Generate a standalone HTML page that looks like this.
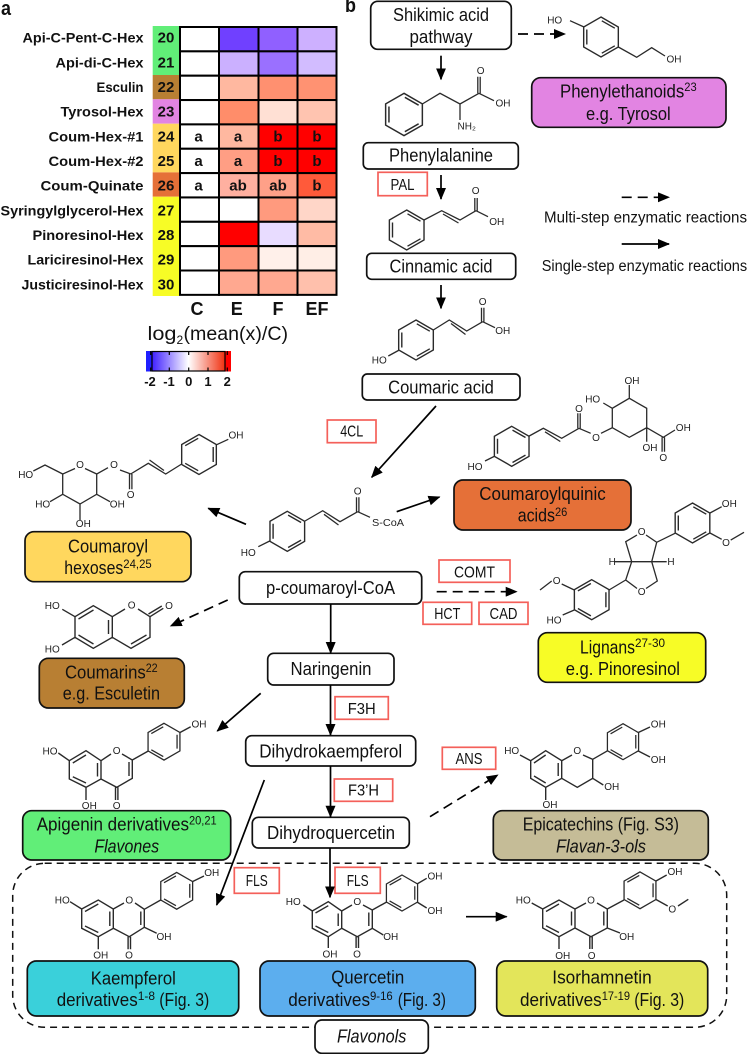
<!DOCTYPE html>
<html lang="en"><head><meta charset="utf-8"><title>Phenylpropanoid pathway</title>
<style>
html,body{margin:0;padding:0;background:#fff}
svg{display:block}
text{font-family:"Liberation Sans",sans-serif;fill:#111}
.t{font-size:18px;text-anchor:middle}
.l{font-size:18px}
.s{font-size:12px}
.e{font-size:15.5px;text-anchor:middle}
.m{font-size:10px;text-anchor:middle;fill:#222}
.h{font-size:14px;font-weight:bold;text-anchor:end}
.n{font-size:15px;font-weight:bold;text-anchor:middle}
.c{font-size:15px;font-weight:bold;text-anchor:middle}
.box{stroke:#111;stroke-width:1.7}
.ez{fill:#fff;stroke:#f4605a;stroke-width:1.7}
.b{fill:none;stroke:#2a2a2a;stroke-width:1.3}
.a{stroke:#000;stroke-width:1.7;fill:none;marker-end:url(#ah)}
.ad{stroke:#000;stroke-width:1.7;fill:none;stroke-dasharray:10 6;marker-end:url(#ah)}
.cell{stroke:#000;stroke-width:2}
</style></head><body>
<svg xmlns="http://www.w3.org/2000/svg" width="749" height="1054" viewBox="0 0 749 1054">
<defs>
<marker id="ah" markerUnits="userSpaceOnUse" markerWidth="12" markerHeight="10" refX="11" refY="5" orient="auto"><path d="M0 0L12 5L0 10z" fill="#000"/></marker>
<g id="ra"><path class="b" d="M0-20L17.32-10V10L0 20L-17.32 10V-10Z M-14.2-7.5V7.5 M.8-16.2L13.8-8.8 M.8 16.2L13.8 8.8" style="stroke-width:1.4"/></g>
<g id="rb"><path class="b" d="M0-20L17.32-10V10L0 20L-17.32 10V-10Z M14.2-7.5V7.5 M-.8-16.2L-13.8-8.8 M-.8 16.2L-13.8 8.8" style="stroke-width:1.4"/></g>
</defs>

<!-- Panel a -->
<text x="1" y="15" style="font-size:20px;font-weight:bold" textLength="10" lengthAdjust="spacingAndGlyphs">a</text>
<text x="345" y="12" style="font-size:20px;font-weight:bold" textLength="11" lengthAdjust="spacingAndGlyphs">b</text>

<rect x="152.7" y="26" width="27" height="49" fill="#61EE78"/>
<rect x="152.7" y="75" width="27" height="24.3" fill="#B87F33"/>
<rect x="152.7" y="99.3" width="27" height="24.4" fill="#E284E2"/>
<rect x="152.7" y="123.7" width="27" height="48.7" fill="#FFD75E"/>
<rect x="152.7" y="172.4" width="27" height="24.3" fill="#E57038"/>
<rect x="152.7" y="196.7" width="27" height="99.3" fill="#F7FC26"/>

<g class="cell">
<rect x="180" y="27" width="39" height="24.35" fill="#fff"/><rect x="219" y="27" width="39.5" height="24.35" fill="#7040FF"/><rect x="258.5" y="27" width="39" height="24.35" fill="#9060FF"/><rect x="297.5" y="27" width="39" height="24.35" fill="#CDB0FF"/>
<rect x="180" y="51.35" width="39" height="24.35" fill="#fff"/><rect x="219" y="51.35" width="39.5" height="24.35" fill="#CBB0FF"/><rect x="258.5" y="51.35" width="39" height="24.35" fill="#9A70FF"/><rect x="297.5" y="51.35" width="39" height="24.35" fill="#D2BCFF"/>
<rect x="180" y="75.7" width="39" height="24.35" fill="#fff"/><rect x="219" y="75.7" width="39.5" height="24.35" fill="#FFB8A0"/><rect x="258.5" y="75.7" width="39" height="24.35" fill="#FF9070"/><rect x="297.5" y="75.7" width="39" height="24.35" fill="#FF9272"/>
<rect x="180" y="100.05" width="39" height="24.35" fill="#fff"/><rect x="219" y="100.05" width="39.5" height="24.35" fill="#FF8D6A"/><rect x="258.5" y="100.05" width="39" height="24.35" fill="#FFE0D4"/><rect x="297.5" y="100.05" width="39" height="24.35" fill="#FFC4B0"/>
<rect x="180" y="124.4" width="39" height="24.35" fill="#fff"/><rect x="219" y="124.4" width="39.5" height="24.35" fill="#FFB8A0"/><rect x="258.5" y="124.4" width="39" height="24.35" fill="#FF0000"/><rect x="297.5" y="124.4" width="39" height="24.35" fill="#FF0000"/>
<rect x="180" y="148.75" width="39" height="24.35" fill="#fff"/><rect x="219" y="148.75" width="39.5" height="24.35" fill="#FF9E84"/><rect x="258.5" y="148.75" width="39" height="24.35" fill="#FF0000"/><rect x="297.5" y="148.75" width="39" height="24.35" fill="#FF0000"/>
<rect x="180" y="173.1" width="39" height="24.35" fill="#fff"/><rect x="219" y="173.1" width="39.5" height="24.35" fill="#FFB0A0"/><rect x="258.5" y="173.1" width="39" height="24.35" fill="#FFA088"/><rect x="297.5" y="173.1" width="39" height="24.35" fill="#FF5A3A"/>
<rect x="180" y="197.45" width="39" height="24.35" fill="#fff"/><rect x="219" y="197.45" width="39.5" height="24.35" fill="#fff"/><rect x="258.5" y="197.45" width="39" height="24.35" fill="#FF9A7E"/><rect x="297.5" y="197.45" width="39" height="24.35" fill="#FFD6C8"/>
<rect x="180" y="221.8" width="39" height="24.35" fill="#fff"/><rect x="219" y="221.8" width="39.5" height="24.35" fill="#FF0000"/><rect x="258.5" y="221.8" width="39" height="24.35" fill="#E8DCFF"/><rect x="297.5" y="221.8" width="39" height="24.35" fill="#FFBBA5"/>
<rect x="180" y="246.15" width="39" height="24.35" fill="#fff"/><rect x="219" y="246.15" width="39.5" height="24.35" fill="#FF9A7E"/><rect x="258.5" y="246.15" width="39" height="24.35" fill="#FFF0EA"/><rect x="297.5" y="246.15" width="39" height="24.35" fill="#FFEEE6"/>
<rect x="180" y="270.5" width="39" height="24.35" fill="#fff"/><rect x="219" y="270.5" width="39.5" height="24.35" fill="#FFA890"/><rect x="258.5" y="270.5" width="39" height="24.35" fill="#FFA890"/><rect x="297.5" y="270.5" width="39" height="24.35" fill="#FFC0AC"/>
</g>

<text class="h" x="143.5" y="42.7" textLength="121" lengthAdjust="spacingAndGlyphs">Api-C-Pent-C-Hex</text>
<text class="h" x="143.5" y="67.4" textLength="88" lengthAdjust="spacingAndGlyphs">Api-di-C-Hex</text>
<text class="h" x="143.5" y="92" textLength="47" lengthAdjust="spacingAndGlyphs">Esculin</text>
<text class="h" x="143.5" y="116.7" textLength="83" lengthAdjust="spacingAndGlyphs">Tyrosol-Hex</text>
<text class="h" x="143.5" y="141.3" textLength="95" lengthAdjust="spacingAndGlyphs">Coum-Hex-#1</text>
<text class="h" x="143.5" y="166" textLength="95" lengthAdjust="spacingAndGlyphs">Coum-Hex-#2</text>
<text class="h" x="143.5" y="190.7" textLength="103" lengthAdjust="spacingAndGlyphs">Coum-Quinate</text>
<text class="h" x="143.5" y="215.3" textLength="143" lengthAdjust="spacingAndGlyphs">Syringylglycerol-Hex</text>
<text class="h" x="143.5" y="240" textLength="111" lengthAdjust="spacingAndGlyphs">Pinoresinol-Hex</text>
<text class="h" x="143.5" y="264.6" textLength="116" lengthAdjust="spacingAndGlyphs">Lariciresinol-Hex</text>
<text class="h" x="143.5" y="289.3" textLength="122" lengthAdjust="spacingAndGlyphs">Justiciresinol-Hex</text>

<text class="n" x="166" y="42.7">20</text><text class="n" x="166" y="67.4">21</text><text class="n" x="166" y="92">22</text><text class="n" x="166" y="116.7">23</text><text class="n" x="166" y="141.3">24</text><text class="n" x="166" y="166">25</text><text class="n" x="166" y="190.7">26</text><text class="n" x="166" y="215.3">27</text><text class="n" x="166" y="240">28</text><text class="n" x="166" y="264.6">29</text><text class="n" x="166" y="289.3">30</text>

<text class="c" x="198.5" y="141.3">a</text><text class="c" x="238" y="141.3">a</text><text class="c" x="278" y="141.3">b</text><text class="c" x="317" y="141.3">b</text>
<text class="c" x="198.5" y="166">a</text><text class="c" x="238" y="166">a</text><text class="c" x="278" y="166">b</text><text class="c" x="317" y="166">b</text>
<text class="c" x="198.5" y="190.7">a</text><text class="c" x="238" y="190.7">ab</text><text class="c" x="278" y="190.7">ab</text><text class="c" x="317" y="190.7">b</text>

<text x="197" y="315" style="font-size:18px;font-weight:bold;text-anchor:middle">C</text>
<text x="236.7" y="315" style="font-size:18px;font-weight:bold;text-anchor:middle">E</text>
<text x="278" y="315" style="font-size:18px;font-weight:bold;text-anchor:middle">F</text>
<text x="317" y="315" style="font-size:18px;font-weight:bold;text-anchor:middle">EF</text>
<text x="147.5" y="340" style="font-size:19px" textLength="29" lengthAdjust="spacingAndGlyphs">log</text>
<text x="176.5" y="344" style="font-size:12px">2</text>
<text x="183.5" y="340" style="font-size:19px" textLength="104.5" lengthAdjust="spacingAndGlyphs">(mean(x)/C)</text>

<linearGradient id="g" x1="0" x2="1" y1="0" y2="0"><stop offset="0" stop-color="#4020ff"/><stop offset=".5" stop-color="#fff"/><stop offset="1" stop-color="#f03010"/></linearGradient>
<rect x="146" y="351" width="6" height="20.5" fill="#2020ff"/>
<rect x="225" y="351" width="6" height="20.5" fill="#ff0000"/>
<rect x="152" y="351.5" width="73" height="19.5" fill="url(#g)" stroke="#000" stroke-width="1.2"/>
<path d="M150.7 351v4M169.3 351v4M188.7 351v4M208 351v4M227.3 351v4M150.7 371.5v-4M169.3 371.5v-4M188.7 371.5v-4M208 371.5v-4M227.3 371.5v-4" stroke="#000" stroke-width="1.2"/>
<g style="font-size:13px;font-weight:bold;text-anchor:middle">
<text x="150" y="386">-2</text><text x="169" y="386">-1</text><text x="188.7" y="386">0</text><text x="208" y="386">1</text><text x="227.3" y="386">2</text>
</g>

<!-- Panel b main boxes -->
<g class="box" fill="#fff">
<rect x="370.7" y="1.3" width="140.6" height="48" rx="7"/>
<rect x="363.3" y="142.7" width="155" height="26.3" rx="5"/>
<rect x="366.7" y="253.3" width="149" height="26" rx="5"/>
<rect x="362.3" y="374" width="157.7" height="26" rx="5"/>
<rect x="239.3" y="571.7" width="182.4" height="32.3" rx="6"/>
<rect x="267.7" y="653.3" width="126.3" height="31.7" rx="6"/>
<rect x="245.7" y="735.7" width="170" height="30.3" rx="6"/>
<rect x="252.3" y="817.3" width="157" height="30.7" rx="6"/>
</g>
<rect x="12.7" y="863.3" width="714" height="164" rx="32" fill="none" stroke="#111" stroke-width="1.5" stroke-dasharray="7 5"/>
<g class="box">
<rect x="531.7" y="77.7" width="194.3" height="49.6" rx="9" fill="#E284E2"/>
<rect x="25" y="531.7" width="166" height="50" rx="9" fill="#FFD75E"/>
<rect x="39.3" y="658.3" width="145" height="49.7" rx="9" fill="#B87F33"/>
<rect x="454" y="480" width="177" height="50" rx="9" fill="#E57038"/>
<rect x="538.3" y="632.7" width="167.4" height="49.6" rx="9" fill="#F7FC26"/>
<rect x="22.7" y="810.7" width="208" height="49.3" rx="9" fill="#61EE78"/>
<rect x="493.3" y="810.7" width="215" height="49.3" rx="9" fill="#C5BC97"/>
<rect x="27.3" y="961" width="211.4" height="55" rx="9" fill="#3AD0DA"/>
<rect x="260" y="961" width="215.3" height="55" rx="9" fill="#5CAEEE"/>
<rect x="496.7" y="961" width="211" height="55" rx="9" fill="#E3E55A"/>
<rect x="315" y="1020" width="113.3" height="33.3" rx="7" fill="#fff"/>
</g>

<!-- Enzymes -->
<rect class="ez" x="378" y="172.3" width="49.3" height="23.4"/><text class="e" x="402.5" y="190" textLength="24" lengthAdjust="spacingAndGlyphs">PAL</text>
<rect class="ez" x="327.3" y="420" width="48.7" height="22.7"/><text class="e" x="351.7" y="436.7" textLength="23" lengthAdjust="spacingAndGlyphs">4CL</text>
<rect class="ez" x="439" y="560" width="71" height="22.3"/><text class="e" x="474.5" y="577.3" textLength="41" lengthAdjust="spacingAndGlyphs">COMT</text>
<rect class="ez" x="423" y="602.3" width="48.7" height="22"/><text class="e" x="447.3" y="619" textLength="26" lengthAdjust="spacingAndGlyphs">HCT</text>
<rect class="ez" x="479" y="602.3" width="49" height="22"/><text class="e" x="503.5" y="619" textLength="28" lengthAdjust="spacingAndGlyphs">CAD</text>
<rect class="ez" x="335" y="696.7" width="53.3" height="22.6"/><text class="e" x="361.7" y="714" textLength="28" lengthAdjust="spacingAndGlyphs">F3H</text>
<rect class="ez" x="334.3" y="779" width="58.4" height="22.3"/><text class="e" x="363.5" y="795.7" textLength="31" lengthAdjust="spacingAndGlyphs">F3’H</text>
<rect class="ez" x="442.3" y="747.3" width="53.4" height="22"/><text class="e" x="469" y="764" textLength="27" lengthAdjust="spacingAndGlyphs">ANS</text>
<rect class="ez" x="234.3" y="867.7" width="45" height="25.6"/><text class="e" x="256.8" y="886" textLength="22" lengthAdjust="spacingAndGlyphs">FLS</text>
<rect class="ez" x="335" y="867.3" width="45.3" height="26"/><text class="e" x="357.7" y="886" textLength="22" lengthAdjust="spacingAndGlyphs">FLS</text>

<!-- Arrows -->
<path class="ad" d="M518 34H565"/>
<path class="a" d="M441 55.7V79.3"/>
<path class="a" d="M441 175V199"/>
<path class="a" d="M441 285V308.3"/>
<path class="a" d="M436 406L371.7 477.3"/>
<path class="a" d="M396.7 511.7L439.5 497"/>
<path class="a" d="M246 524.3L208.3 508.3"/>
<path class="ad" d="M227.7 600L170.7 626"/>
<path class="ad" d="M436.7 591.7H516.7"/>
<path class="a" d="M330.7 604V653"/>
<path class="a" d="M330.5 685V735"/>
<path class="a" d="M330.5 766V816.7"/>
<path class="a" d="M330 848V897.3"/>
<path class="a" d="M260.7 693.3L217.3 731"/>
<path class="a" d="M264.3 780L216.7 905"/>
<path class="ad" d="M430 816.7L497.7 775"/>
<path class="a" d="M466 916.7H506.7"/>
<path class="ad" d="M621.7 197.3H669"/>
<path class="a" d="M621.7 244H669"/>

<!-- Legend -->
<text class="l" x="544" y="222.7" style="font-size:15.5px" textLength="203" lengthAdjust="spacingAndGlyphs">Multi-step enzymatic reactions</text>
<text class="l" x="541.7" y="271" style="font-size:15.5px" textLength="205.5" lengthAdjust="spacingAndGlyphs">Single-step enzymatic reactions</text>

<!-- Box labels -->
<text class="t" x="441" y="21" textLength="96" lengthAdjust="spacingAndGlyphs">Shikimic acid</text>
<text class="t" x="441" y="43" textLength="63" lengthAdjust="spacingAndGlyphs">pathway</text>
<text class="t" x="441" y="161.7" textLength="104" lengthAdjust="spacingAndGlyphs">Phenylalanine</text>
<text class="t" x="441" y="272.7" textLength="103" lengthAdjust="spacingAndGlyphs">Cinnamic acid</text>
<text class="t" x="441" y="393.3" textLength="105.7" lengthAdjust="spacingAndGlyphs">Coumaric acid</text>
<text class="t" x="330.5" y="594" textLength="129" lengthAdjust="spacingAndGlyphs">p-coumaroyl-CoA</text>
<text class="t" x="331" y="675" textLength="81" lengthAdjust="spacingAndGlyphs">Naringenin</text>
<text class="t" x="330.7" y="757.3" textLength="143" lengthAdjust="spacingAndGlyphs">Dihydrokaempferol</text>
<text class="t" x="331" y="839" textLength="128" lengthAdjust="spacingAndGlyphs">Dihydroquercetin</text>

<text class="l" x="560" y="97.7" textLength="124.3" lengthAdjust="spacingAndGlyphs">Phenylethanoids</text><text class="s" x="684.3" y="91" textLength="12.4" lengthAdjust="spacingAndGlyphs">23</text>
<text class="t" x="628.3" y="120" textLength="84.7" lengthAdjust="spacingAndGlyphs">e.g. Tyrosol</text>
<text class="t" x="108" y="552.3" textLength="80" lengthAdjust="spacingAndGlyphs">Coumaroyl</text>
<text class="l" x="64.3" y="574" textLength="59" lengthAdjust="spacingAndGlyphs">hexoses</text><text class="s" x="123.3" y="568" textLength="28.4" lengthAdjust="spacingAndGlyphs">24,25</text>
<text class="l" x="65" y="678.3" textLength="80.7" lengthAdjust="spacingAndGlyphs">Coumarins</text><text class="s" x="145.7" y="672" textLength="12" lengthAdjust="spacingAndGlyphs">22</text>
<text class="l" x="62.7" y="699.3" textLength="97.3" lengthAdjust="spacingAndGlyphs">e.g. Esculetin</text>
<text class="t" x="542.5" y="500" textLength="126.4" lengthAdjust="spacingAndGlyphs">Coumaroylquinic</text>
<text class="l" x="517.7" y="521.7" textLength="37.3" lengthAdjust="spacingAndGlyphs">acids</text><text class="s" x="555" y="516" textLength="12.3" lengthAdjust="spacingAndGlyphs">26</text>
<text class="l" x="580" y="653.3" textLength="55" lengthAdjust="spacingAndGlyphs">Lignans</text><text class="s" x="635" y="647" textLength="30" lengthAdjust="spacingAndGlyphs">27-30</text>
<text class="l" x="565.7" y="675" textLength="114.3" lengthAdjust="spacingAndGlyphs">e.g. Pinoresinol</text>
<text class="l" x="36.7" y="830.7" textLength="152.3" lengthAdjust="spacingAndGlyphs">Apigenin derivatives</text><text class="s" x="189" y="824.5" textLength="27.7" lengthAdjust="spacingAndGlyphs">20,21</text>
<text class="t" x="126.7" y="852.7" style="font-style:italic" textLength="64.7" lengthAdjust="spacingAndGlyphs">Flavones</text>
<text class="l" x="522.7" y="830.7" textLength="156.3" lengthAdjust="spacingAndGlyphs">Epicatechins (Fig. S3)</text>
<text class="t" x="601" y="852.7" style="font-style:italic" textLength="90" lengthAdjust="spacingAndGlyphs">Flavan-3-ols</text>
<text class="t" x="133.3" y="984.3" textLength="85" lengthAdjust="spacingAndGlyphs">Kaempferol</text>
<text class="l" x="56.7" y="1006" textLength="81" lengthAdjust="spacingAndGlyphs">derivatives</text><text class="s" x="137.7" y="1000" textLength="17.3" lengthAdjust="spacingAndGlyphs">1-8</text><text class="l" x="159.3" y="1006" textLength="50" lengthAdjust="spacingAndGlyphs">(Fig. 3)</text>
<text class="t" x="367.7" y="983.7" textLength="73" lengthAdjust="spacingAndGlyphs">Quercetin</text>
<text class="l" x="288.3" y="1006" textLength="81.7" lengthAdjust="spacingAndGlyphs">derivatives</text><text class="s" x="370" y="1000" textLength="22.7" lengthAdjust="spacingAndGlyphs">9-16</text><text class="l" x="397.7" y="1006" textLength="48.3" lengthAdjust="spacingAndGlyphs">(Fig. 3)</text>
<text class="t" x="602" y="983.7" textLength="99.4" lengthAdjust="spacingAndGlyphs">Isorhamnetin</text>
<text class="l" x="520" y="1006" textLength="81.7" lengthAdjust="spacingAndGlyphs">derivatives</text><text class="s" x="601.7" y="1000" textLength="28.3" lengthAdjust="spacingAndGlyphs">17-19</text><text class="l" x="634.3" y="1006" textLength="50" lengthAdjust="spacingAndGlyphs">(Fig. 3)</text>
<text class="t" x="371.7" y="1042.7" style="font-style:italic" textLength="69.3" lengthAdjust="spacingAndGlyphs">Flavonols</text>

<!-- Tyrosol -->
<use href="#ra" transform="translate(601,37)"/>
<path class="b" d="M618.3 47L636.7 57.3L651.7 47.7L665 56M570 20.7L584 27"/>
<text class="m" x="554.7" y="23.5">HO</text><text class="m" x="674" y="62.5">OH</text>

<!-- Phenylalanine -->
<use href="#ra" transform="translate(404,114.5) scale(1.06)"/>
<path class="b" d="M422.3 104L440 93.3L460 104L479 93.3M477.8 93.3V76.7M480.2 93.3V76.7M479 93.3L494 100.7M460 104V120"/>
<text class="m" x="480.7" y="74">O</text><text class="m" x="503" y="106.5">OH</text><text class="m" x="466.7" y="129.5">NH₂</text>

<!-- Cinnamic acid -->
<use href="#ra" transform="translate(406.7,230)"/>
<path class="b" d="M424 220L441.7 210.7L460 220L476 210.7M443 214L458.5 223M474.8 210.7V198M477.2 210.7V198M476 210.7L488 216.7"/>
<text class="m" x="475.7" y="194">O</text><text class="m" x="496.7" y="225">OH</text>

<!-- Coumaric acid -->
<use href="#ra" transform="translate(416,340)"/>
<path class="b" d="M433.3 330L449.3 320L466.7 331L482.7 321.7M451 323.5L465.5 334.5M481.5 321.7V307.7M483.9 321.7V307.7M482.7 321.7L495 327.7M399.3 350L388.3 356"/>
<text class="m" x="379.3" y="363.5">HO</text><text class="m" x="482.7" y="305">O</text><text class="m" x="502.7" y="334">OH</text>

<!-- p-Coumaroyl-CoA -->
<use href="#ra" transform="translate(287.3,531.3)"/>
<path class="b" d="M305 521L322.7 510.7L340 521.7L357.7 511.7M324 514.3L338.5 525M356.5 511.7V497.3M358.9 511.7V497.3M357.7 511.7L370 517.3M269.7 541L258.3 546.7"/>
<text class="m" x="248.3" y="555.8">HO</text><text class="m" x="357.7" y="494.5">O</text><text class="m" x="388" y="525.8" textLength="32" lengthAdjust="spacingAndGlyphs">S-CoA</text>

<!-- Coumaroyl hexose -->
<use href="#rb" transform="translate(199,454.5)"/>
<path class="b" d="M216.7 444.7L228.3 439.3M181.7 464L165.7 474L148.3 463.3L130.7 474M164 470.5L149.5 460M129.5 474V489.3M131.9 474V489.3M130.7 474L120 470M108 467.7L96.7 474V494.3L80 504L62.7 494.3V474L75 468.5M85 468.5L96.7 474M62.7 474L45 465L33.3 471M62.7 494.3L50 501.7M80 504V520M96.7 494.3L110 501.7"/>
<text class="m" x="236" y="438.5">OH</text><text class="m" x="130.7" y="497.8">O</text><text class="m" x="114" y="467.8">O</text><text class="m" x="80" y="468">O</text><text class="m" x="25.7" y="477.8">HO</text><text class="m" x="42.7" y="507.5">HO</text><text class="m" x="83.3" y="526.8">OH</text><text class="m" x="117.3" y="507.5">OH</text>

<!-- Esculetin -->
<path class="b" style="stroke-width:1.4" d="M75 616.7L93.3 605.7L112.3 616.7V637.3L93.3 648.3L75 637.3ZM78.5 619L93.5 610M78.5 635L93.5 644M108.5 620V634M112.3 616.7L125 609M138 609L150 616.7V637.3L131 648.3L112.3 637.3M146.5 635L131 644M150 616.7L163.3 608.3M148.5 614L161.8 606M62.3 609.3L75 616.7M62 645L75 637.3"/>
<text class="m" x="131.7" y="608.5">O</text><text class="m" x="169" y="609.2">O</text><text class="m" x="52.3" y="609.2">HO</text><text class="m" x="52.3" y="652.5">HO</text>

<!-- Coumaroylquinic -->
<use href="#ra" transform="translate(511.7,446.3)"/>
<path class="b" d="M528.3 436.5L543.3 428.3L561.7 438.3L579 428.3M545 431.8L560.3 441.5M577.8 428.3V413.3M580.2 428.3V413.3M579 428.3L590.7 433.3M601 433.3L612.3 427.7V408.3L629.3 398.3L646.7 408.3V427.7L629.3 437.3L612.3 427.7M629.3 398.3V385M612.3 408.3L603.3 403M646.7 427.7V441.7M646.7 427.7L663.3 437.3L675 430M662.1 437.3V451.7M664.5 437.3V451.7M495 456L485 461"/>
<text class="m" x="579" y="411.8">O</text><text class="m" x="596" y="440.8">O</text><text class="m" x="632" y="384">OH</text><text class="m" x="592.7" y="402.5">HO</text><text class="m" x="650" y="450.8">OH</text><text class="m" x="683.3" y="431.2">OH</text><text class="m" x="663.3" y="460.8">O</text><text class="m" x="475" y="470.2">HO</text>

<!-- Pinoresinol -->
<use href="#ra" transform="translate(692.5,523)"/>
<use href="#rb" transform="translate(591.7,599.7)"/>
<path class="b" d="M710 513L721.7 506.7M710 533L721.7 539.3M730.7 540L744 532.3M675 533.3L656.7 542.3L646 535M637 535L625.7 541.7L631.7 561.7H651.7L656.7 542.3M651.7 561.7L657.3 581L646 588.5M637 588.5L625.7 580L631.7 561.7M615 561.7H631.7M651.7 561.7H666.7M625.7 580L609 590M574.3 590L561.7 584M551.7 581L540 590M574.3 610L562.7 615"/>
<text class="m" x="729.3" y="506.8">OH</text><text class="m" x="726" y="546.2">O</text><text class="m" x="641.7" y="535.2">O</text><text class="m" x="641.7" y="595.2">O</text><text class="m" x="612.3" y="565.2">H</text><text class="m" x="671" y="565.2">H</text><text class="m" x="556.7" y="584.2">O</text><text class="m" x="554" y="623.5">HO</text>

<!-- Apigenin -->
<use href="#rb" transform="translate(164,741.7) scale(.92)"/>
<path class="b" style="stroke-width:1.4" d="M69.3 760.7L86 750.7L101 760.7V779L86 787.3L69.3 779ZM72.8 763L86 755M72.8 776.7L86 783M97.5 763V776.5M101 760.7L111 754M122 754L132.3 760V778.3L116.7 787.3L101 779M129 762V776M115.5 787.3V800M117.9 787.3V800M86 787.3V800M58.3 753L69.3 760.7M132.3 760L148.3 751M180 732.5L190.7 726.7"/>
<text class="m" x="116.7" y="754.2">O</text><text class="m" x="116.7" y="808.8">O</text><text class="m" x="89.3" y="808.8">OH</text><text class="m" x="50" y="754.5">HO</text><text class="m" x="199" y="727.5">OH</text>

<!-- Kaempferol -->
<use href="#rb" transform="translate(176.7,890.8) scale(.92)"/>
<path class="b" style="stroke-width:1.4" d="M81.7 909L98.3 900L113.3 909V928.3L98.3 936.7L81.7 928.3ZM85 911.5L98.3 904M85 926L98.3 932.5M109.8 911.5V926M113.3 909L124 903M135 903L144.3 909.3V927.3L129.3 936.7L113.3 928.3M140.8 911.5V925M128.1 936.7V949.3M130.5 936.7V949.3M98.3 936.7V949.3M70 901.7L81.7 909M144.3 927.3L156.7 933.3M144.3 909.3L160.7 900M192.7 881.5L204 876"/>
<text class="m" x="129.3" y="903.5">O</text><text class="m" x="129" y="958.5">O</text><text class="m" x="100.7" y="958.5">OH</text><text class="m" x="62.3" y="903.5">HO</text><text class="m" x="164" y="940.2">OH</text><text class="m" x="211.7" y="876.2">OH</text>

<!-- Quercetin -->
<use href="#rb" transform="translate(402,893) scale(.9)"/>
<path class="b" style="stroke-width:1.4" d="M312.3 911L328.3 901.7L341.7 911V928.3L328.3 936.7L312.3 928.3ZM315.5 913L328.3 905.7M315.5 926L328.3 932.5M338.2 913.5V926M341.7 911L352 905M363 905L372.3 910V928.3L357.3 936.7L341.7 928.3M368.8 912.5V926M356.1 936.7V948M358.5 936.7V948M328.3 936.7V948M303.3 905L312.3 911M372.3 928.3L383.3 935M372.3 910L386.7 902M417 884L426.7 878.3M417 902L426.7 908"/>
<text class="m" x="357.3" y="905.2">O</text><text class="m" x="357" y="957.5">O</text><text class="m" x="330" y="957.5">OH</text><text class="m" x="293.3" y="905.2">HO</text><text class="m" x="390.7" y="940.2">OH</text><text class="m" x="435" y="879.5">OH</text><text class="m" x="435" y="914.2">OH</text>

<!-- Isorhamnetin -->
<use href="#rb" transform="translate(640,890.3) scale(.92)"/>
<path class="b" style="stroke-width:1.4" d="M542.7 909L559 900L575 909V928L559 936.7L542.7 928ZM546 911.5L559 904M546 925.7L559 932.5M571.5 911.5V925.5M575 909L586 903M597 903L607.3 909V928L591 936.7L575 928M603.8 911.5V925.5M589.8 936.7V949M592.2 936.7V949M559 936.7V949M531.7 903L542.7 909M607.3 928L620 933M607.3 909L624 900M656 881L666.7 875M656 899.5L667.7 906M678 906L688.3 899.3"/>
<text class="m" x="591" y="903.5">O</text><text class="m" x="591.7" y="959.2">O</text><text class="m" x="562.7" y="959.2">OH</text><text class="m" x="523.3" y="903.5">HO</text><text class="m" x="626.7" y="940.2">OH</text><text class="m" x="675" y="875.2">OH</text><text class="m" x="672.3" y="912.5">O</text>

<!-- Epicatechin -->
<use href="#rb" transform="translate(623,741.7) scale(.9)"/>
<path class="b" style="stroke-width:1.4" d="M530.7 760.7L545.7 750.7L561.7 760.7V778.3L545.7 787.3L530.7 778.3ZM534 763L545.7 755M534 776L545.7 783M558.2 763V776M561.7 760.7L572 755M583 755L592.7 759.3V778.3L577.3 787.3L561.7 778.3M545.7 787.3V800M520 755L530.7 760.7M592.7 778.3L603.3 785M592.7 759.3L607.7 750.7M638.3 732.5L650 727M638.3 751L650 757"/>
<text class="m" x="577.3" y="754.2">O</text><text class="m" x="550" y="807.8">OH</text><text class="m" x="511.7" y="754.2">HO</text><text class="m" x="611.7" y="790.2">OH</text><text class="m" x="658.3" y="727.5">OH</text><text class="m" x="658.3" y="762.8">OH</text>
</svg>
</body></html>
